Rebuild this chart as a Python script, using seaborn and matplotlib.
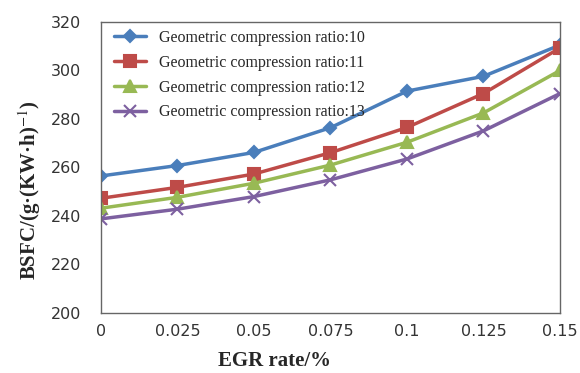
import matplotlib
matplotlib.use("Agg")
import matplotlib.pyplot as plt
import seaborn as sns
import pandas as pd

egr = [0, 0.025, 0.05, 0.075, 0.1, 0.125, 0.15]
cr10 = [256.5, 260.8, 266.2, 276.4, 291.5, 297.6, 310.5]
cr11 = [247.3, 251.8, 257.3, 266.1, 276.5, 290.5, 309.3]
cr12 = [243.2, 247.7, 253.5, 261.0, 270.4, 282.5, 300.0]
cr13 = [238.8, 242.8, 248.0, 254.9, 263.5, 275.1, 290.5]
labels = ["Geometric compression ratio:10", "Geometric compression ratio:11",
          "Geometric compression ratio:12", "Geometric compression ratio:13"]
xticks = ["0", "0.025", "0.05", "0.075", "0.1", "0.125", "0.15"]

sns.set_style("white")
plt.rcParams["font.family"] = ["DejaVu Sans"]
plt.rcParams["mathtext.fontset"] = "stix"

colors = ["#4A7EBB", "#BE4B48", "#98B954", "#7D60A0"]
markers = ["D", "s", "^", "x"]
msizes = [6, 9, 9, 8]

fig = plt.figure(figsize=(5.8, 3.73), dpi=100)
ax = fig.add_axes([0.174, 0.161, 0.7915, 0.780])

for lab, vals, c, m, ms in zip(labels, [cr10, cr11, cr12, cr13], colors, markers, msizes):
    d = pd.DataFrame({"EGR": egr, "BSFC": vals})
    sns.lineplot(data=d, x="EGR", y="BSFC", color=c, marker=m, markersize=ms,
                 markeredgecolor=c, markeredgewidth=1.5, linewidth=2.5,
                 label=lab, ax=ax)

ax.set_xlim(0, 0.15)
ax.set_ylim(200, 320)
ax.set_xticks(egr)
ax.set_xticklabels(xticks)
ax.set_yticks(range(200, 321, 20))
ax.tick_params(direction="in", length=4, labelsize=11.5, colors="#444444",
               labelcolor="#333333")
ax.tick_params(axis="y", pad=14)
ax.tick_params(axis="x", pad=8)
for s in ax.spines.values():
    s.set_color("#666666")
    s.set_linewidth(1.0)

ax.set_xlabel("EGR rate/%", fontsize=15, fontweight="bold",
              family="Liberation Serif")
ax.set_ylabel(r"BSFC/(g·(KW·h)$^{-1}$)", fontsize=15, fontweight="bold",
              family="Liberation Serif")
ax.xaxis.set_label_coords(0.379, -0.13)
ax.yaxis.set_label_coords(-0.126, 0.423)

h, l = ax.get_legend_handles_labels()
ax.legend(h, l, loc="upper left", frameon=False, prop={"family": "Liberation Serif", "size": 11.5},
          labelspacing=0.55, handlelength=2.0, handletextpad=0.8,
          bbox_to_anchor=(0.012, 1.0), borderaxespad=0.1, borderpad=0.4)

fig.savefig("out.png", dpi=100)
